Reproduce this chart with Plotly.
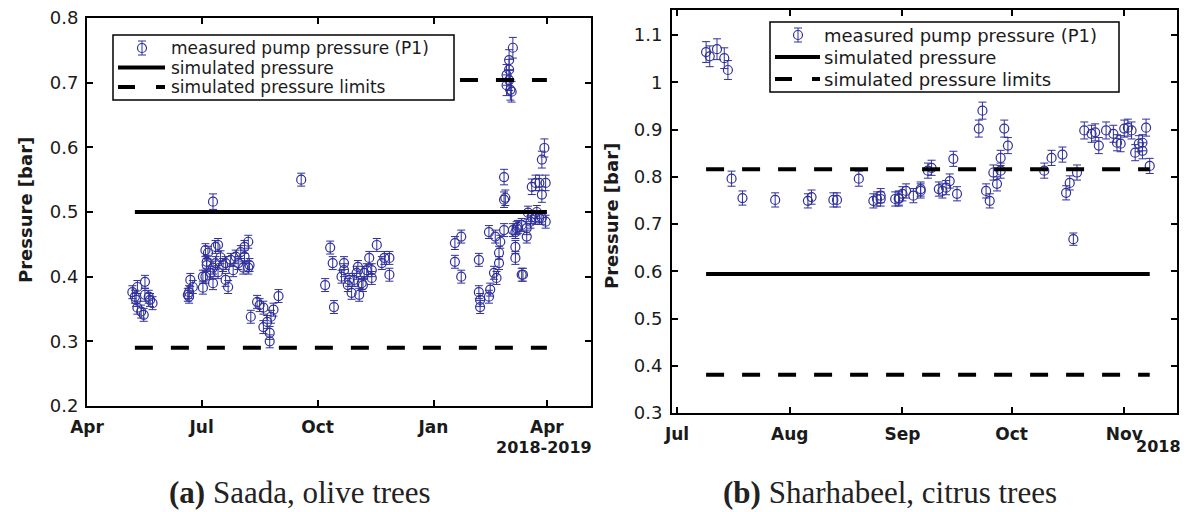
import plotly.graph_objects as go

# ---------------- (a) Saada, olive trees ----------------
saada_dates = [
    "2018-05-07", "2018-05-09", "2018-05-10", "2018-05-11", "2018-05-11", "2018-05-14",
    "2018-05-16", "2018-05-17", "2018-05-17", "2018-05-20", "2018-05-21", "2018-05-23",
    "2018-06-20", "2018-06-21", "2018-06-21", "2018-06-22", "2018-06-24",
    "2018-07-02", "2018-07-02", "2018-07-04", "2018-07-04", "2018-07-05", "2018-07-05",
    "2018-07-06", "2018-07-08", "2018-07-10", "2018-07-10", "2018-07-10", "2018-07-12",
    "2018-07-12", "2018-07-14", "2018-07-14", "2018-07-16", "2018-07-18", "2018-07-20",
    "2018-07-20", "2018-07-22", "2018-07-24", "2018-07-26", "2018-07-28", "2018-07-30",
    "2018-08-01", "2018-08-03", "2018-08-04", "2018-08-04", "2018-08-07", "2018-08-07",
    "2018-08-08",
    "2018-08-09", "2018-08-14", "2018-08-16", "2018-08-19", "2018-08-19", "2018-08-22",
    "2018-08-24", "2018-08-24", "2018-08-25", "2018-08-27", "2018-08-31",
    "2018-09-18",
    "2018-10-07", "2018-10-11", "2018-10-13", "2018-10-14", "2018-10-20", "2018-10-22",
    "2018-10-22", "2018-10-25", "2018-10-26", "2018-10-28", "2018-10-30", "2018-11-01",
    "2018-11-02", "2018-11-03", "2018-11-05", "2018-11-06", "2018-11-07", "2018-11-09",
    "2018-11-11", "2018-11-13", "2018-11-13", "2018-11-17", "2018-11-21", "2018-11-23",
    "2018-11-27", "2018-11-27",
    "2019-01-18", "2019-01-18", "2019-01-23", "2019-01-23", "2019-02-06", "2019-02-06",
    "2019-02-07", "2019-02-07", "2019-02-14", "2019-02-14", "2019-02-15", "2019-02-18",
    "2019-02-19", "2019-02-20", "2019-02-22", "2019-02-22", "2019-02-23", "2019-02-26",
    "2019-02-26", "2019-02-26", "2019-02-27", "2019-02-28", "2019-02-28", "2019-03-02",
    "2019-03-02", "2019-03-02", "2019-03-03", "2019-03-04", "2019-03-05", "2019-03-05",
    "2019-03-07", "2019-03-07", "2019-03-07", "2019-03-08", "2019-03-09", "2019-03-12",
    "2019-03-12", "2019-03-13", "2019-03-16", "2019-03-16", "2019-03-17", "2019-03-19",
    "2019-03-20", "2019-03-20", "2019-03-23", "2019-03-23", "2019-03-24", "2019-03-26",
    "2019-03-26", "2019-03-28", "2019-03-28", "2019-03-28", "2019-03-30", "2019-03-31",
    "2019-03-31",
]
saada_p1 = [
    0.376, 0.369, 0.364, 0.384, 0.352, 0.346,
    0.341, 0.392, 0.372, 0.369, 0.364, 0.359,
    0.372, 0.376, 0.369, 0.395, 0.384,
    0.383, 0.400, 0.441, 0.400, 0.418, 0.423,
    0.437, 0.406, 0.414, 0.390, 0.516, 0.446,
    0.421, 0.449, 0.407, 0.430, 0.418, 0.395,
    0.421, 0.384, 0.426, 0.410, 0.431, 0.421,
    0.438, 0.414, 0.431, 0.446, 0.454, 0.414,
    0.418,
    0.338, 0.361, 0.356, 0.352, 0.322, 0.330,
    0.313, 0.300, 0.338, 0.349, 0.370,
    0.550,
    0.387, 0.445, 0.421, 0.353, 0.400, 0.410,
    0.421, 0.387, 0.395, 0.375, 0.395, 0.406,
    0.415, 0.372, 0.390, 0.387, 0.406, 0.410,
    0.429, 0.410, 0.398, 0.449, 0.421, 0.429,
    0.429, 0.403,
    0.452, 0.423, 0.462, 0.400, 0.426, 0.376,
    0.364, 0.353, 0.369, 0.469, 0.380, 0.406,
    0.462, 0.398, 0.421, 0.437, 0.454, 0.472,
    0.519, 0.554, 0.522, 0.712, 0.696, 0.735,
    0.720, 0.704, 0.689, 0.686, 0.754, 0.472,
    0.469, 0.446, 0.429, 0.475, 0.477, 0.403,
    0.480, 0.403, 0.475, 0.462, 0.499, 0.485,
    0.492, 0.539, 0.491, 0.545, 0.500, 0.491,
    0.545, 0.491, 0.527, 0.581, 0.599, 0.485,
    0.545,
]
saada_err = [
    0.010, 0.010, 0.010, 0.010, 0.010, 0.010,
    0.010, 0.010, 0.010, 0.010, 0.010, 0.010,
    0.010, 0.010, 0.010, 0.010, 0.010,
    0.010, 0.010, 0.010, 0.010, 0.010, 0.010,
    0.010, 0.010, 0.010, 0.010, 0.012, 0.010,
    0.010, 0.010, 0.010, 0.010, 0.010, 0.010,
    0.010, 0.010, 0.010, 0.010, 0.010, 0.010,
    0.010, 0.010, 0.010, 0.010, 0.010, 0.010,
    0.010,
    0.010, 0.010, 0.010, 0.010, 0.010, 0.010,
    0.010, 0.010, 0.010, 0.010, 0.010,
    0.010,
    0.010, 0.010, 0.010, 0.010, 0.010, 0.010,
    0.010, 0.010, 0.010, 0.010, 0.010, 0.010,
    0.010, 0.010, 0.010, 0.010, 0.010, 0.010,
    0.010, 0.010, 0.010, 0.010, 0.010, 0.010,
    0.010, 0.010,
    0.010, 0.010, 0.010, 0.010, 0.010, 0.010,
    0.010, 0.010, 0.010, 0.010, 0.010, 0.010,
    0.010, 0.010, 0.010, 0.010, 0.010, 0.010,
    0.012, 0.012, 0.012, 0.016, 0.016, 0.016,
    0.016, 0.016, 0.016, 0.016, 0.016, 0.010,
    0.010, 0.010, 0.010, 0.010, 0.010, 0.010,
    0.010, 0.010, 0.010, 0.010, 0.010, 0.010,
    0.010, 0.012, 0.010, 0.012, 0.010, 0.010,
    0.012, 0.010, 0.012, 0.013, 0.014, 0.010,
    0.012,
]
saada_sim_x = ["2018-05-09", "2019-04-01"]
saada_sim = [0.500, 0.500]
saada_low_x = ["2018-05-09", "2019-04-01"]
saada_low = [0.290, 0.290]
saada_high_x = ["2019-01-22", "2019-04-01"]
saada_high = [0.704, 0.704]

# ---------------- (b) Sharhabeel, citrus trees ----------------
sharh_dates = [
    "2018-07-09", "2018-07-10", "2018-07-12", "2018-07-14", "2018-07-15", "2018-07-16",
    "2018-07-19", "2018-07-28", "2018-08-06", "2018-08-07", "2018-08-13", "2018-08-14",
    "2018-08-20", "2018-08-24", "2018-08-25", "2018-08-26", "2018-08-26", "2018-08-30",
    "2018-08-31", "2018-08-31", "2018-09-01", "2018-09-02", "2018-09-04", "2018-09-06",
    "2018-09-06", "2018-09-08", "2018-09-09", "2018-09-11", "2018-09-12", "2018-09-13",
    "2018-09-14", "2018-09-15", "2018-09-16", "2018-09-22", "2018-09-23", "2018-09-24",
    "2018-09-25", "2018-09-26", "2018-09-27", "2018-09-28", "2018-09-28", "2018-09-29",
    "2018-09-30", "2018-10-10", "2018-10-12", "2018-10-15", "2018-10-16", "2018-10-17",
    "2018-10-18", "2018-10-19", "2018-10-21", "2018-10-23", "2018-10-24", "2018-10-25",
    "2018-10-27", "2018-10-29", "2018-10-30", "2018-10-31", "2018-11-01", "2018-11-02",
    "2018-11-03", "2018-11-04", "2018-11-05", "2018-11-06", "2018-11-06", "2018-11-07",
    "2018-11-08",
]
sharh_p1 = [
    1.064, 1.055, 1.070, 1.051, 1.026, 0.796,
    0.755, 0.751, 0.749, 0.757, 0.751, 0.751,
    0.796, 0.749, 0.753, 0.760, 0.753, 0.753,
    0.755, 0.753, 0.764, 0.770, 0.760, 0.770,
    0.774, 0.813, 0.819, 0.774, 0.770, 0.777,
    0.791, 0.838, 0.764, 0.902, 0.940, 0.770,
    0.749, 0.809, 0.785, 0.813, 0.840, 0.902,
    0.866, 0.813, 0.840, 0.847, 0.766, 0.787,
    0.668, 0.809, 0.898, 0.891, 0.894, 0.866,
    0.898, 0.891, 0.872, 0.870, 0.902, 0.904,
    0.898, 0.851, 0.870, 0.855, 0.872, 0.904,
    0.823,
]
sharh_err = [
    0.022, 0.022, 0.022, 0.022, 0.020, 0.016,
    0.015, 0.015, 0.015, 0.015, 0.015, 0.015,
    0.016, 0.015, 0.015, 0.015, 0.015, 0.015,
    0.015, 0.015, 0.015, 0.015, 0.015, 0.015,
    0.015, 0.016, 0.016, 0.015, 0.015, 0.015,
    0.015, 0.016, 0.015, 0.018, 0.018, 0.015,
    0.015, 0.016, 0.015, 0.016, 0.016, 0.018,
    0.017, 0.016, 0.016, 0.016, 0.015, 0.015,
    0.013, 0.016, 0.018, 0.018, 0.018, 0.017,
    0.018, 0.018, 0.017, 0.017, 0.018, 0.018,
    0.018, 0.017, 0.017, 0.017, 0.017, 0.018,
    0.016,
]
sharh_sim_x = ["2018-07-09", "2018-11-08"]
sharh_sim = [0.594, 0.594]
sharh_lim_x = ["2018-07-09", "2018-11-08"]
sharh_high = [0.816, 0.816]
sharh_low = [0.381, 0.381]

# ---------------- ticks / labels ----------------
saada_tickvals = ["2018-04-01", "2018-07-01", "2018-10-01", "2019-01-01", "2019-04-01"]
saada_ticktext = ["Apr", "Jul", "Oct", "Jan", "Apr"]
sharh_tickvals = ["2018-07-01", "2018-08-01", "2018-09-01", "2018-10-01", "2018-11-01"]
sharh_ticktext = ["Jul", "Aug", "Sep", "Oct", "Nov"]
saada_yticks = [0.2, 0.3, 0.4, 0.5, 0.6, 0.7, 0.8]
saada_yticktext = ["0.2", "0.3", "0.4", "0.5", "0.6", "0.7", "0.8"]
sharh_yticks = [0.3, 0.4, 0.5, 0.6, 0.7, 0.8, 0.9, 1.0, 1.1]
sharh_yticktext = ["0.3", "0.4", "0.5", "0.6", "0.7", "0.8", "0.9", "1", "1.1"]

labels = ["measured pump pressure (P1)", "simulated pressure", "simulated pressure limits"]

W, H = 1188, 512
MK = "#30309a"
FONT = "DejaVu Sans"
TXT = "#1a1a1a"

fig = go.Figure()


def add_panel(xa, ya, dates, vals, errs, simx, simy, limsets):
    fig.add_trace(go.Scatter(
        x=dates, y=vals, mode="markers", name=labels[0], showlegend=False,
        xaxis=xa, yaxis=ya,
        marker=dict(symbol="circle-open", size=9, color=MK, line=dict(width=1.2, color=MK)),
        error_y=dict(type="data", array=errs, visible=True, color=MK, thickness=1, width=4),
    ))
    fig.add_trace(go.Scatter(
        x=simx, y=simy, mode="lines", name=labels[1], showlegend=False,
        xaxis=xa, yaxis=ya, line=dict(color="black", width=4),
    ))
    for lx, ly in limsets:
        fig.add_trace(go.Scatter(
            x=lx, y=ly, mode="lines", name=labels[2], showlegend=False,
            xaxis=xa, yaxis=ya, line=dict(color="black", width=4, dash="18px,18px"),
        ))


add_panel("x", "y", saada_dates, saada_p1, saada_err, saada_sim_x, saada_sim,
          [(saada_low_x, saada_low), (saada_high_x, saada_high)])
add_panel("x2", "y2", sharh_dates, sharh_p1, sharh_err, sharh_sim_x, sharh_sim,
          [(sharh_lim_x, sharh_high), (sharh_lim_x, sharh_low)])


def px_x(p):
    return p / W


def px_y(p):
    return 1 - p / H


axis_common = dict(
    showgrid=False, zeroline=False, showline=True, linecolor="black", linewidth=2,
    mirror="ticks", ticks="inside", ticklen=6, tickwidth=1.5, tickcolor="black",
    automargin=False,
)
xfont = dict(family=FONT, size=17, color=TXT)
yfont = dict(family=FONT, size=18, color=TXT)

fig.update_layout(
    width=W, height=H,
    margin=dict(l=0, r=0, t=0, b=0),
    paper_bgcolor="white", plot_bgcolor="white",
    showlegend=False,
    xaxis=dict(axis_common, domain=[px_x(87), px_x(591)], anchor="y", type="date",
               range=["2018-04-01", "2019-05-06"], tickvals=saada_tickvals,
               ticktext=["<b>%s</b>" % t for t in saada_ticktext],
               tickfont=xfont, ticklabelstandoff=5),
    yaxis=dict(axis_common, domain=[px_y(406), px_y(18)], anchor="x", range=[0.2, 0.8],
               tickvals=saada_yticks, ticktext=saada_yticktext, tickfont=yfont,
               ticklabelstandoff=3),
    xaxis2=dict(axis_common, domain=[px_x(672), px_x(1177)], anchor="y2", type="date",
                range=["2018-06-29 15:00", "2018-11-15 12:00"], tickvals=sharh_tickvals,
                ticktext=["<b>%s</b>" % t for t in sharh_ticktext],
                tickfont=xfont, ticklabelstandoff=5),
    yaxis2=dict(axis_common, domain=[px_y(413), px_y(10)], anchor="x2", range=[0.3, 1.153],
                tickvals=sharh_yticks, ticktext=sharh_yticktext, tickfont=yfont,
                ticklabelstandoff=4),
)

# ---------------- legends (boxes, samples and texts) ----------------
shapes = []
annots = []


def pshape(**kw):
    d = dict(xref="paper", yref="paper", layer="above")
    d.update(kw)
    shapes.append(d)


def add_legend(box, mx, rows, sx0, sx1, tx, dash, fsize):
    x0, y0, x1, y1 = box
    pshape(type="rect", x0=px_x(x0), x1=px_x(x1), y0=px_y(y1), y1=px_y(y0),
           line=dict(color="black", width=1.5), fillcolor="white")
    r0, r1, r2 = rows
    # marker sample with error bar
    pshape(type="line", x0=px_x(mx), x1=px_x(mx), y0=px_y(r0 - 7), y1=px_y(r0 + 7),
           line=dict(color=MK, width=1))
    for yy in (r0 - 7, r0 + 7):
        pshape(type="line", x0=px_x(mx - 4), x1=px_x(mx + 4), y0=px_y(yy), y1=px_y(yy),
               line=dict(color=MK, width=1))
    pshape(type="circle", x0=px_x(mx - 4.5), x1=px_x(mx + 4.5),
           y0=px_y(r0 + 4.5), y1=px_y(r0 - 4.5),
           line=dict(color=MK, width=1.2), fillcolor="rgba(0,0,0,0)")
    pshape(type="line", x0=px_x(sx0), x1=px_x(sx1), y0=px_y(r1), y1=px_y(r1),
           line=dict(color="black", width=4))
    pshape(type="line", x0=px_x(sx0), x1=px_x(sx1), y0=px_y(r2), y1=px_y(r2),
           line=dict(color="black", width=4, dash=dash))
    for lab, ry in zip(labels, rows):
        annots.append(dict(text=lab, x=px_x(tx), y=px_y(ry), xanchor="left", yanchor="middle",
                           borderpad=0, font=dict(family=FONT, size=fsize, color=TXT)))


add_legend((113, 35, 454, 100), 142, (48, 67.5, 87), 118, 165, 170, "17px,21px", 17)
add_legend((770, 22, 1119, 92), 798, (35, 57, 79), 775, 820, 823, "17px,20px", 18)

annots += [
    dict(text="<b>Pressure [bar]</b>", x=px_x(25), y=px_y(210), textangle=-90,
         xanchor="center", yanchor="middle", font=dict(family=FONT, size=18, color=TXT)),
    dict(text="<b>Pressure [bar]</b>", x=px_x(611), y=px_y(216), textangle=-90,
         xanchor="center", yanchor="middle", font=dict(family=FONT, size=18, color=TXT)),
    dict(text="<b>2018-2019</b>", x=px_x(594), y=px_y(447), xanchor="right", yanchor="middle",
         font=dict(family=FONT, size=16, color=TXT)),
    dict(text="<b>2018</b>", x=px_x(1183), y=px_y(446), xanchor="right", yanchor="middle",
         font=dict(family=FONT, size=16, color=TXT)),
    dict(text="<b>(a)</b> Saada, olive trees", x=px_x(300), y=px_y(492),
         xanchor="center", yanchor="middle",
         font=dict(family="Liberation Serif", size=31, color="#222")),
    dict(text="<b>(b)</b> Sharhabeel, citrus trees", x=px_x(890), y=px_y(492),
         xanchor="center", yanchor="middle",
         font=dict(family="Liberation Serif", size=31, color="#222")),
]

fig.update_layout(shapes=shapes)
for a in annots:
    fig.add_annotation(xref="paper", yref="paper", showarrow=False, **a)

fig.write_html("out.html",
               post_script="document.body.style.margin='0';document.body.style.padding='0';")
